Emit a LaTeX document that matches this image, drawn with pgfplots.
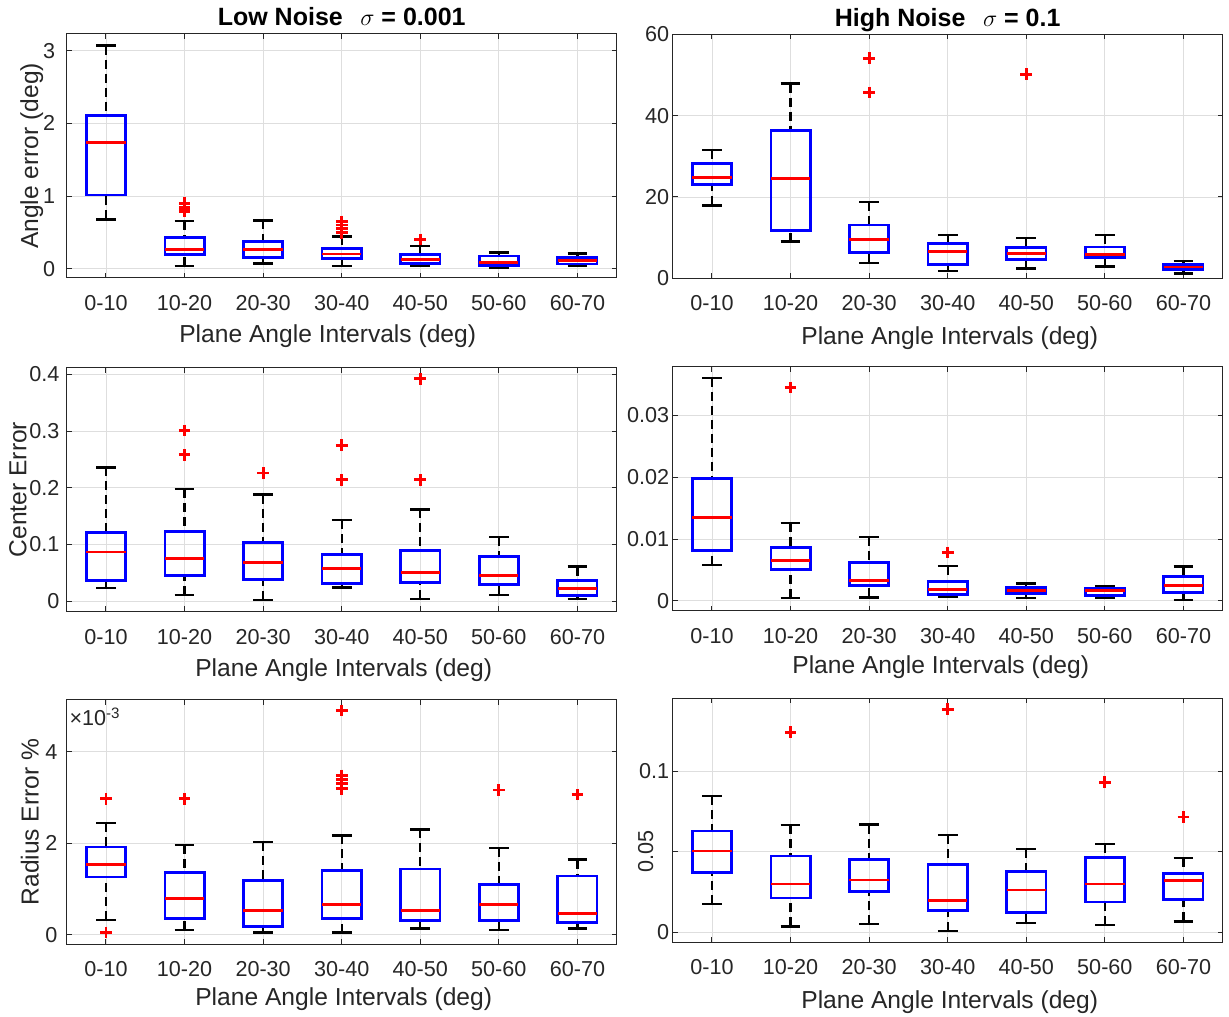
\documentclass[border=0pt]{standalone}
\usepackage{pgfplots}
\pgfplotsset{compat=1.18}
\usepgfplotslibrary{statistics}
\usepackage{fontspec}
\setmainfont{Liberation Sans}
\definecolor{axisgray}{rgb}{0.15,0.15,0.15}
\definecolor{gridgray}{rgb}{0.87,0.87,0.87}
\definecolor{mblue}{rgb}{0,0,1}
\definecolor{mred}{rgb}{1,0,0}
\pgfplotsset{
  mybox/.style={
    scale only axis, width=275pt, height=122pt,
    xmin=0.5, xmax=7.5,
    xtick={1,...,7},
    xticklabels={0-10,10-20,20-30,30-40,40-50,50-60,60-70},
    tick align=inside, major tick length=2.5pt,
    axis line style={draw=axisgray, line width=0.5pt},
    every tick/.style={axisgray, line width=0.5pt},
    grid=major, major grid style={gridgray, line width=0.4pt},
    tick label style={font=\fontsize{10.8}{13}\selectfont, text=axisgray},
    label style={font=\fontsize{12.3}{14.5}\selectfont, text=axisgray},
    xticklabel style={anchor=base, yshift=-16.3pt},
    every axis title shift=0pt,
    title style={font=\bfseries\fontsize{12.5}{15}\selectfont, text=black, at={(axis description cs:0.5,1)}, anchor=base, yshift=4pt},
    /pgf/number format/assume math mode=true,
    scaled ticks=false,
    boxplot/draw direction=y,
    boxplot/box extend=0.5,
    boxplot/whisker extend=0.25,
    boxplot/every box/.style={draw=mblue, line width=1.4pt},
    boxplot/every median/.style={draw=mred, line width=1.4pt},
    boxplot/draw/lower whisker/.code={%
      \draw[black, line width=1.2pt, dash pattern=on 4.5pt off 2.5pt]
        (boxplot box cs:\pgfplotsboxplotvalue{lower whisker},0.5) --
        (boxplot box cs:\pgfplotsboxplotvalue{lower quartile},0.5);
      \draw[black, line width=1.2pt, solid]
        (boxplot whisker cs:\pgfplotsboxplotvalue{lower whisker},0) --
        (boxplot whisker cs:\pgfplotsboxplotvalue{lower whisker},1);
    },
    boxplot/draw/upper whisker/.code={%
      \draw[black, line width=1.2pt, dash pattern=on 4.5pt off 2.5pt]
        (boxplot box cs:\pgfplotsboxplotvalue{upper whisker},0.5) --
        (boxplot box cs:\pgfplotsboxplotvalue{upper quartile},0.5);
      \draw[black, line width=1.2pt, solid]
        (boxplot whisker cs:\pgfplotsboxplotvalue{upper whisker},0) --
        (boxplot whisker cs:\pgfplotsboxplotvalue{upper whisker},1);
    },
  },
  bp/.style={black, solid, mark=+, mark size=2.9pt, mark options={mred, solid, line width=1.4pt}},
}
\newcommand{\bx}[6]{\addplot[bp, boxplot prepared={draw direction=y, draw position=#1, lower whisker=#2, lower quartile=#3, median=#4, upper quartile=#5, upper whisker=#6}]}
\begin{document}
\begin{tikzpicture}
\useasboundingbox (0,0) rectangle (614.5pt,508pt);
% ---------- Panel 1
\begin{axis}[mybox, at={(33.35pt,369pt)}, anchor=south west,
  ymin=-0.128, ymax=3.23, ytick={0,1,2,3}, yticklabels={0,1,2,3},
  yticklabel style={xshift=-2.3pt},
  title={Low Noise\hspace{0.7em}{\mdseries$\sigma$} = 0.001},
  xlabel={Plane Angle Intervals (deg)},
  xlabel style={at={(axis description cs:0.5,0)}, anchor=base, yshift=-32.5pt, xshift=-7pt},
  ylabel={Angle error (deg)},
  ylabel style={at={(axis description cs:-0.0636,0.5)}, anchor=center}]
\bx{1}{0.679}{1.014}{1.739}{2.106}{3.07} coordinates {};
\bx{2}{0.041}{0.197}{0.261}{0.431}{0.656} coordinates {(2,0.90) (2,0.85) (2,0.81) (2,0.79)};
\bx{3}{0.073}{0.151}{0.261}{0.372}{0.665} coordinates {};
\bx{4}{0.037}{0.138}{0.202}{0.28}{0.445} coordinates {(4,0.65) (4,0.6) (4,0.55) (4,0.5) (4,0.49)};
\bx{5}{0.037}{0.073}{0.124}{0.197}{0.312} coordinates {(5,0.404)};
\bx{6}{0.014}{0.041}{0.087}{0.174}{0.225} coordinates {};
\bx{7}{0.037}{0.064}{0.11}{0.151}{0.211} coordinates {};
\end{axis}
% ---------- Panel 2
\begin{axis}[mybox, at={(336.35pt,368.85pt)}, anchor=south west,
  ymin=0, ymax=60, ytick={0,20,40,60}, yticklabels={0,20,40,60},
  yticklabel style={xshift=1.8pt},
  title={High Noise\hspace{0.7em}{\mdseries$\sigma$} = 0.1},
  xlabel={Plane Angle Intervals (deg)},
  xlabel style={at={(axis description cs:0.5,0)}, anchor=base, yshift=-33.3pt, xshift=1pt}]
\bx{1}{17.9}{23.1}{24.8}{28.3}{31.5} coordinates {};
\bx{2}{9.0}{11.8}{24.6}{36.4}{47.9} coordinates {};
\bx{3}{3.8}{6.4}{9.6}{13.1}{18.8} coordinates {(3,54.1) (3,45.7)};
\bx{4}{1.8}{3.3}{6.5}{8.5}{10.7} coordinates {};
\bx{5}{2.4}{4.7}{6.0}{7.5}{9.9} coordinates {(5,50.2)};
\bx{6}{2.9}{5.2}{5.8}{7.7}{10.7} coordinates {};
\bx{7}{1.2}{2.2}{2.8}{3.4}{4.2} coordinates {};
\end{axis}
% ---------- Panel 3 (values in units of 0.01)
\begin{axis}[mybox, at={(33.35pt,202.25pt)}, anchor=south west,
  ymin=-1.8, ymax=41.2, ytick={0,10,20,30,40}, yticklabels={0,0.1,0.2,0.3,0.4},
  yticklabel style={xshift=-0.1pt},
  xlabel={Plane Angle Intervals (deg)},
  xlabel style={at={(axis description cs:0.5,0)}, anchor=base, yshift=-32.5pt, xshift=1pt},
  ylabel={Center Error},
  ylabel style={at={(axis description cs:-0.0887,0.5)}, anchor=center}]
\bx{1}{2.3}{3.6}{8.7}{12.1}{23.6} coordinates {};
\bx{2}{1.1}{4.6}{7.5}{12.3}{19.8} coordinates {(2,30.1) (2,25.8)};
\bx{3}{0.2}{3.9}{6.9}{10.4}{18.8} coordinates {(3,22.6)};
\bx{4}{2.4}{3.1}{5.8}{8.2}{14.3} coordinates {(4,27.5) (4,21.4)};
\bx{5}{0.35}{3.3}{5.1}{8.9}{16.2} coordinates {(5,39.2) (5,21.4)};
\bx{6}{1.1}{3.0}{4.6}{7.9}{11.3} coordinates {};
\bx{7}{0.35}{1.0}{2.3}{3.6}{6.1} coordinates {};
\end{axis}
% ---------- Panel 4 (values in units of 0.001)
\begin{axis}[mybox, at={(336.35pt,202.65pt)}, anchor=south west,
  ymin=-1.6, ymax=37.9, ytick={0,10,20,30}, yticklabels={0,0.01,0.02,0.03},
  yticklabel style={xshift=1.8pt},
  xlabel={Plane Angle Intervals (deg)},
  xlabel style={at={(axis description cs:0.5,0)}, anchor=base, yshift=-31.3pt, xshift=-3.5pt}]
\bx{1}{5.83}{8.2}{13.44}{19.75}{36.1} coordinates {};
\bx{2}{0.49}{5.13}{6.53}{8.63}{12.57} coordinates {(2,34.54)};
\bx{3}{0.54}{2.48}{3.29}{6.2}{10.36} coordinates {};
\bx{4}{0.7}{1.03}{1.83}{3.08}{5.67} coordinates {(4,7.83)};
\bx{5}{0.43}{1.13}{1.67}{2.16}{2.81} coordinates {};
\bx{6}{0.43}{0.92}{1.62}{2.05}{2.43} coordinates {};
\bx{7}{0.16}{1.35}{2.43}{4.0}{5.56} coordinates {};
\end{axis}
% ---------- Panel 5 (values in units of 0.001)
\begin{axis}[mybox, at={(33.35pt,36pt)}, anchor=south west,
  ymin=-0.205, ymax=5.13, ytick={0,2,4}, yticklabels={0,2,4},
  yticklabel style={xshift=-1.1pt},
  xlabel={Plane Angle Intervals (deg)},
  xlabel style={at={(axis description cs:0.5,0)}, anchor=base, yshift=-30.5pt, xshift=1pt},
  ylabel={Radius Error \%},
  ylabel style={at={(axis description cs:-0.067,0.5)}, anchor=center}]
\bx{1}{0.322}{1.258}{1.528}{1.916}{2.44} coordinates {(1,2.97) (1,0.044)};
\bx{2}{0.095}{0.351}{0.782}{1.367}{1.96} coordinates {(2,2.97)};
\bx{3}{0.044}{0.175}{0.534}{1.177}{2.02} coordinates {};
\bx{4}{0.044}{0.358}{0.665}{1.41}{2.17} coordinates {(4,4.9) (4,3.48) (4,3.4) (4,3.3) (4,3.19)};
\bx{5}{0.132}{0.307}{0.534}{1.433}{2.30} coordinates {};
\bx{6}{0.102}{0.314}{0.651}{1.104}{1.90} coordinates {(6,3.16)};
\bx{7}{0.132}{0.263}{0.468}{1.28}{1.64} coordinates {(7,3.06)};
\node[anchor=base west, inner sep=0pt, font=\fontsize{10.8}{13}\selectfont, text=axisgray]
  at ([xshift=1.2pt,yshift=-13pt]rel axis cs:0,1) {×10\textsuperscript{-3}};
\end{axis}
% ---------- Panel 6 (values in units of 0.01)
\begin{axis}[mybox, at={(336.35pt,36.85pt)}, anchor=south west,
  ymin=-0.62, ymax=14.53, ytick={0,5,10}, yticklabels={0,{\rotatebox{90}{0.05}\kern 8pt},0.1},
  yticklabel style={xshift=1.8pt},
  xlabel={Plane Angle Intervals (deg)},
  xlabel style={at={(axis description cs:0.5,0)}, anchor=base, yshift=-33pt, xshift=1pt}]
\bx{1}{1.76}{3.71}{5.05}{6.29}{8.45} coordinates {};
\bx{2}{0.37}{2.13}{3.0}{4.74}{6.65} coordinates {(2,12.42)};
\bx{3}{0.5}{2.53}{3.25}{4.51}{6.69} coordinates {};
\bx{4}{0.08}{1.37}{1.97}{4.22}{6.05} coordinates {(4,13.85)};
\bx{5}{0.56}{1.24}{2.63}{3.79}{5.16} coordinates {};
\bx{6}{0.46}{1.88}{3.0}{4.64}{5.49} coordinates {(6,9.32)};
\bx{7}{0.68}{2.03}{3.21}{3.66}{4.6} coordinates {(7,7.16)};
\end{axis}
\end{tikzpicture}
\end{document}
